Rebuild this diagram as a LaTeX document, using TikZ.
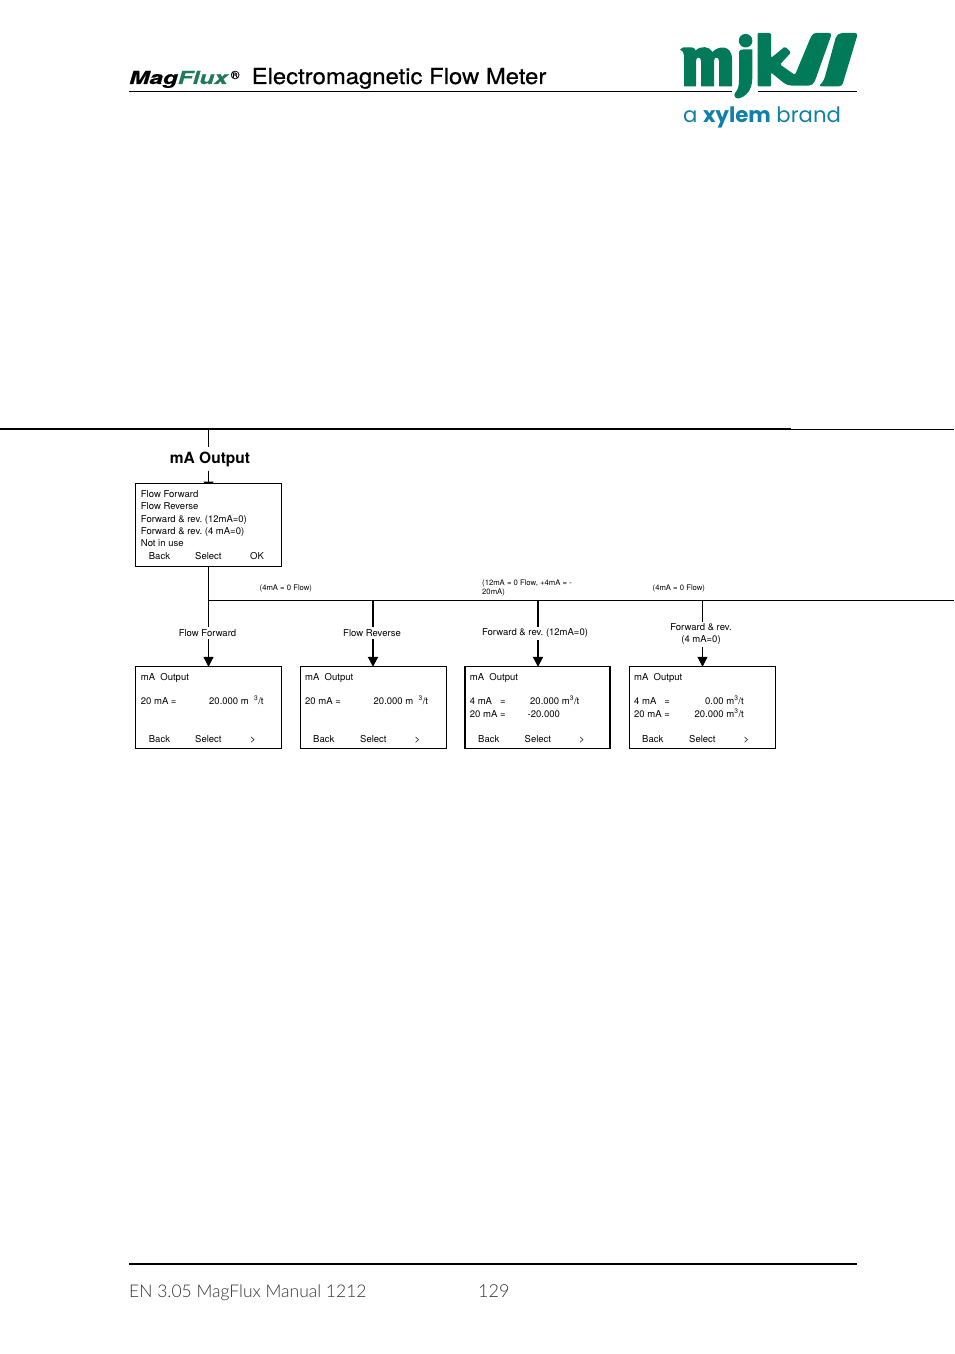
\documentclass[tikz,border=0pt]{standalone}
\usepackage{fontspec}
\setmainfont{TeX Gyre Heros}
\newfontfamily\brandfont{Poppins}
\newfontfamily\headfont[FakeBold=0.5]{TeX Gyre Heros}
\newfontfamily\magfont[FakeBold=0.6]{TeX Gyre Heros Bold Italic}
\newfontfamily\footfont{Lato Light}
\usetikzlibrary{arrows.meta,backgrounds}
\definecolor{mjkgreen}{HTML}{007A58}
\definecolor{xylemblue}{HTML}{0F80A8}
\definecolor{fluxgreen}{HTML}{1F7A5C}
\definecolor{footgray}{HTML}{333333}
\tikzset{
  x=1pt,y=-1pt,
  txt/.style={anchor=base west,inner sep=0pt,font=\fontsize{9.5}{11}\selectfont},
  tiny/.style={anchor=base west,inner sep=0pt,font=\fontsize{7.7}{9}\selectfont},
  screen/.style={draw=black,line width=1pt,fill=white,inner sep=0pt,outer sep=0pt,anchor=north west},
  result/.style={screen,line width=1.3pt,minimum height=82pt},
  branch/.style={fill=white,inner sep=2pt,align=center,font=\fontsize{9.5}{12}\selectfont},
  link/.style={draw=black,line width=1pt},
  flow/.style={link,-{Triangle[length=10pt,width=10pt]}},
}
\begin{document}
\frenchspacing
\begin{tikzpicture}
\useasboundingbox (0,0) rectangle (954,1354);
% header
\node[anchor=base west,inner sep=0pt] (brand) at (129,84) {\scalebox{1.35}[1]{\fontsize{18}{20}\magfont Mag\textcolor{fluxgreen}{Flux}}};
\node[anchor=base west,inner sep=0pt,font=\fontsize{12}{12}\selectfont\headfont] (reg) at (230.5,79) {®};
\node[anchor=base west,inner sep=0pt] (head) at (251.5,84) {\scalebox{1.085}[1]{\fontsize{22}{24}\headfont Electromagnetic Flow Meter}};
\coordinate (hl) at (129,91.7); \coordinate (gl) at (732,91.7); \coordinate (gr) at (758,91.7); \coordinate (hr) at (857,91.7);
\draw[line width=1pt] (hl) -- (gl) (gr) -- (hr);
% logo
\fill[mjkgreen] (680,49.5) -- (683,47.5) -- (692,47.5) .. controls (694,47.5) and (695,49) .. (695.5,50.5)
  .. controls (701,45.5) and (709,46) .. (712.5,52) .. controls (718,45.5) and (732,44.5) .. (732,59)
  -- (732,86.3) -- (719,86.3) -- (719,61) .. controls (719,56.5) and (714,56.5) .. (714,61)
  -- (714,86.3) -- (701,86.3) -- (701,61) .. controls (701,56.5) and (696,56.5) .. (696,61)
  -- (696,86.3) -- (684,86.3) -- (684,55) .. controls (684,52) and (682,51) .. cycle;
\fill[mjkgreen] (745.6,40.7) circle (6.8);
\fill[mjkgreen] (739,52) .. controls (739,50) and (741,49.5) .. (743,49.5) -- (752.3,49.5) -- (752.3,78)
  .. controls (752.3,90) and (746,97) .. (738,98.5) .. controls (735,98.5) and (733.5,95.5) .. (735,93)
  .. controls (738,90) and (739,86) .. (739,80) -- cycle;
\fill[mjkgreen,rounded corners=1.5pt] (757.7,33) -- (771,33) -- (771,58) -- (785,46.5) -- (791,52.5) -- (780,64.5) -- (795,75)
  -- (810,39) [rounded corners=3pt] -- (813,33) -- (832,33) -- (816,78) [rounded corners=4pt] -- (813,85.5) -- (787,85.5)
  [rounded corners=1pt] -- (771,72.5) -- (771,86.3) -- (757.7,86.3) -- cycle;
\fill[mjkgreen,rounded corners=3pt] (837,33) -- (858,33) -- (842,86.3) -- (818.5,86.3)
  [rounded corners=5pt] -- (823.5,82) -- cycle;
\node[anchor=base west,inner sep=0pt,text=xylemblue,font=\brandfont\fontsize{21.2}{25}\selectfont] (xyl) at (683,122) {a \textbf{xylem} brand};
% section rule
\coordinate (tl) at (0,429); \coordinate (tm) at (791,429); \coordinate (tr) at (954,429);
\draw[line width=1.6pt] (tl) -- (tm);
\draw[line width=1pt] (tm) -- (tr);
\node[anchor=base,inner sep=0pt,font=\fontsize{15.5}{18}\selectfont\bfseries] (title) at (210,463) {mA Output};
\node[screen,minimum width=146pt,minimum height=83pt] (menu) at (135.5,483.5) {};
\node[result,minimum width=146pt] (s1) at (135.8,666.8) {};
\node[result,minimum width=146pt] (s2) at (300.3,666.8) {};
\node[result,minimum width=145pt] (s3) at (465,666.8) {};
\node[result,minimum width=146pt] (s4) at (629.3,666.8) {};
% menu text
\node[txt] (m1) at (140.7,497) {Flow Forward};
\node[txt] (m2) at (140.7,509) {Flow Reverse};
\node[txt] (m3) at (140.7,522) {Forward \& rev. (12mA=0)};
\node[txt] (m4) at (140.7,534) {Forward \& rev. (4 mA=0)};
\node[txt] (m5) at (140.7,546) {Not in use};
\node[txt] (m6) at (148.7,559) {Back};
\node[txt] (m7) at (195,559) {Select};
\node[txt] (m8) at (250,559) {OK};
% condition notes
\node[tiny] (n1) at (259.5,590) {(4mA = 0 Flow)};
\node[tiny] (n2) at (482,585) {(12mA = 0 Flow, +4mA = -};
\node[tiny] (n3) at (482,594) {20mA)};
\node[tiny] (n4) at (652.5,590) {(4mA = 0 Flow)};
% branch labels
\node[branch] (b1) at (207.5,633) {Flow Forward};
\node[branch] (b2) at (372,633) {Flow Reverse};
\node[branch] (b3) at (535,633.5) {Forward \& rev. (12mA=0)};
\node[branch] (b4) at (701,634.5) {Forward \& rev.\\(4 mA=0)};
% screens text
\node[txt] at (140.7,680) {mA\ \ Output};
\node[txt] at (140.7,704) {20 mA =};
\node[txt] at (209,704) {20.000 m\ \ \textsuperscript{3}/t};
\node[txt] at (148.7,742) {Back};
\node[txt] at (195,742) {Select};
\node[txt] at (250,742) {>};
\node[txt] at (305,680) {mA\ \ Output};
\node[txt] at (305,704) {20 mA =};
\node[txt] at (373.5,704) {20.000 m\ \ \textsuperscript{3}/t};
\node[txt] at (313,742) {Back};
\node[txt] at (360,742) {Select};
\node[txt] at (414.5,742) {>};
\node[txt] at (469.7,680) {mA\ \ Output};
\node[txt] at (469.7,704) {4 mA\ \ \ =};
\node[txt] at (530,704) {20.000 m\textsuperscript{3}/t};
\node[txt] at (469.7,717) {20 mA =};
\node[txt] at (527.5,717) {-20.000};
\node[txt] at (478,742) {Back};
\node[txt] at (524.5,742) {Select};
\node[txt] at (579,742) {>};
\node[txt] at (634,680) {mA\ \ Output};
\node[txt] at (634,704) {4 mA\ \ \ =};
\node[txt] at (705,704) {0.00 m\textsuperscript{3}/t};
\node[txt] at (634,717) {20 mA =};
\node[txt] at (694.5,717) {20.000 m\textsuperscript{3}/t};
\node[txt] at (642,742) {Back};
\node[txt] at (689,742) {Select};
\node[txt] at (743.5,742) {>};
% connectors
\coordinate (top) at (208.5,429);
\coordinate (jr) at (954,600.5);
\coordinate (j1) at (208.5,600.5);
\coordinate (j2) at (373,600.5);
\coordinate (j3) at (538,600.5);
\coordinate (j4) at (702.5,600.5);
\begin{scope}[on background layer]
\draw[link] (top) -- ([yshift=4.5pt]title.north -| top);
\draw[flow] ([yshift=-4pt]title.south -| top) -- ([yshift=-8pt]menu.north -| top);
\draw[link] (menu.south -| top) -- (j1);
\draw[link] (j1) -- (jr);
\draw[link] (j1) -- (b1.north -| j1);
\draw[flow] (b1.south -| j1) -- (s1.north -| j1);
\draw[link,line width=2pt] (j2) -- (b2.north -| j2);
\draw[flow,line width=2pt] (b2.south -| j2) -- (s2.north -| j2);
\draw[link,line width=2pt] (j3) -- (b3.north -| j3);
\draw[flow,line width=2pt] (b3.south -| j3) -- (s3.north -| j3);
\draw[link] (j4) -- (b4.north -| j4);
\draw[flow] (b4.south -| j4) -- (s4.north -| j4);
\end{scope}
% footer
\coordinate (fl) at (129,1264); \coordinate (fr) at (857,1264);
\draw[line width=1.6pt] (fl) -- (fr);
\node[anchor=base west,inner sep=0pt,text=footgray,font=\footfont\fontsize{17.5}{20}\selectfont] (foot) at (129,1297) {EN 3.05 MagFlux Manual 1212};
\node[anchor=base west,inner sep=0pt,text=footgray,font=\footfont\fontsize{18}{20}\selectfont] (page) at (478,1297) {129};
\end{tikzpicture}
\end{document}
